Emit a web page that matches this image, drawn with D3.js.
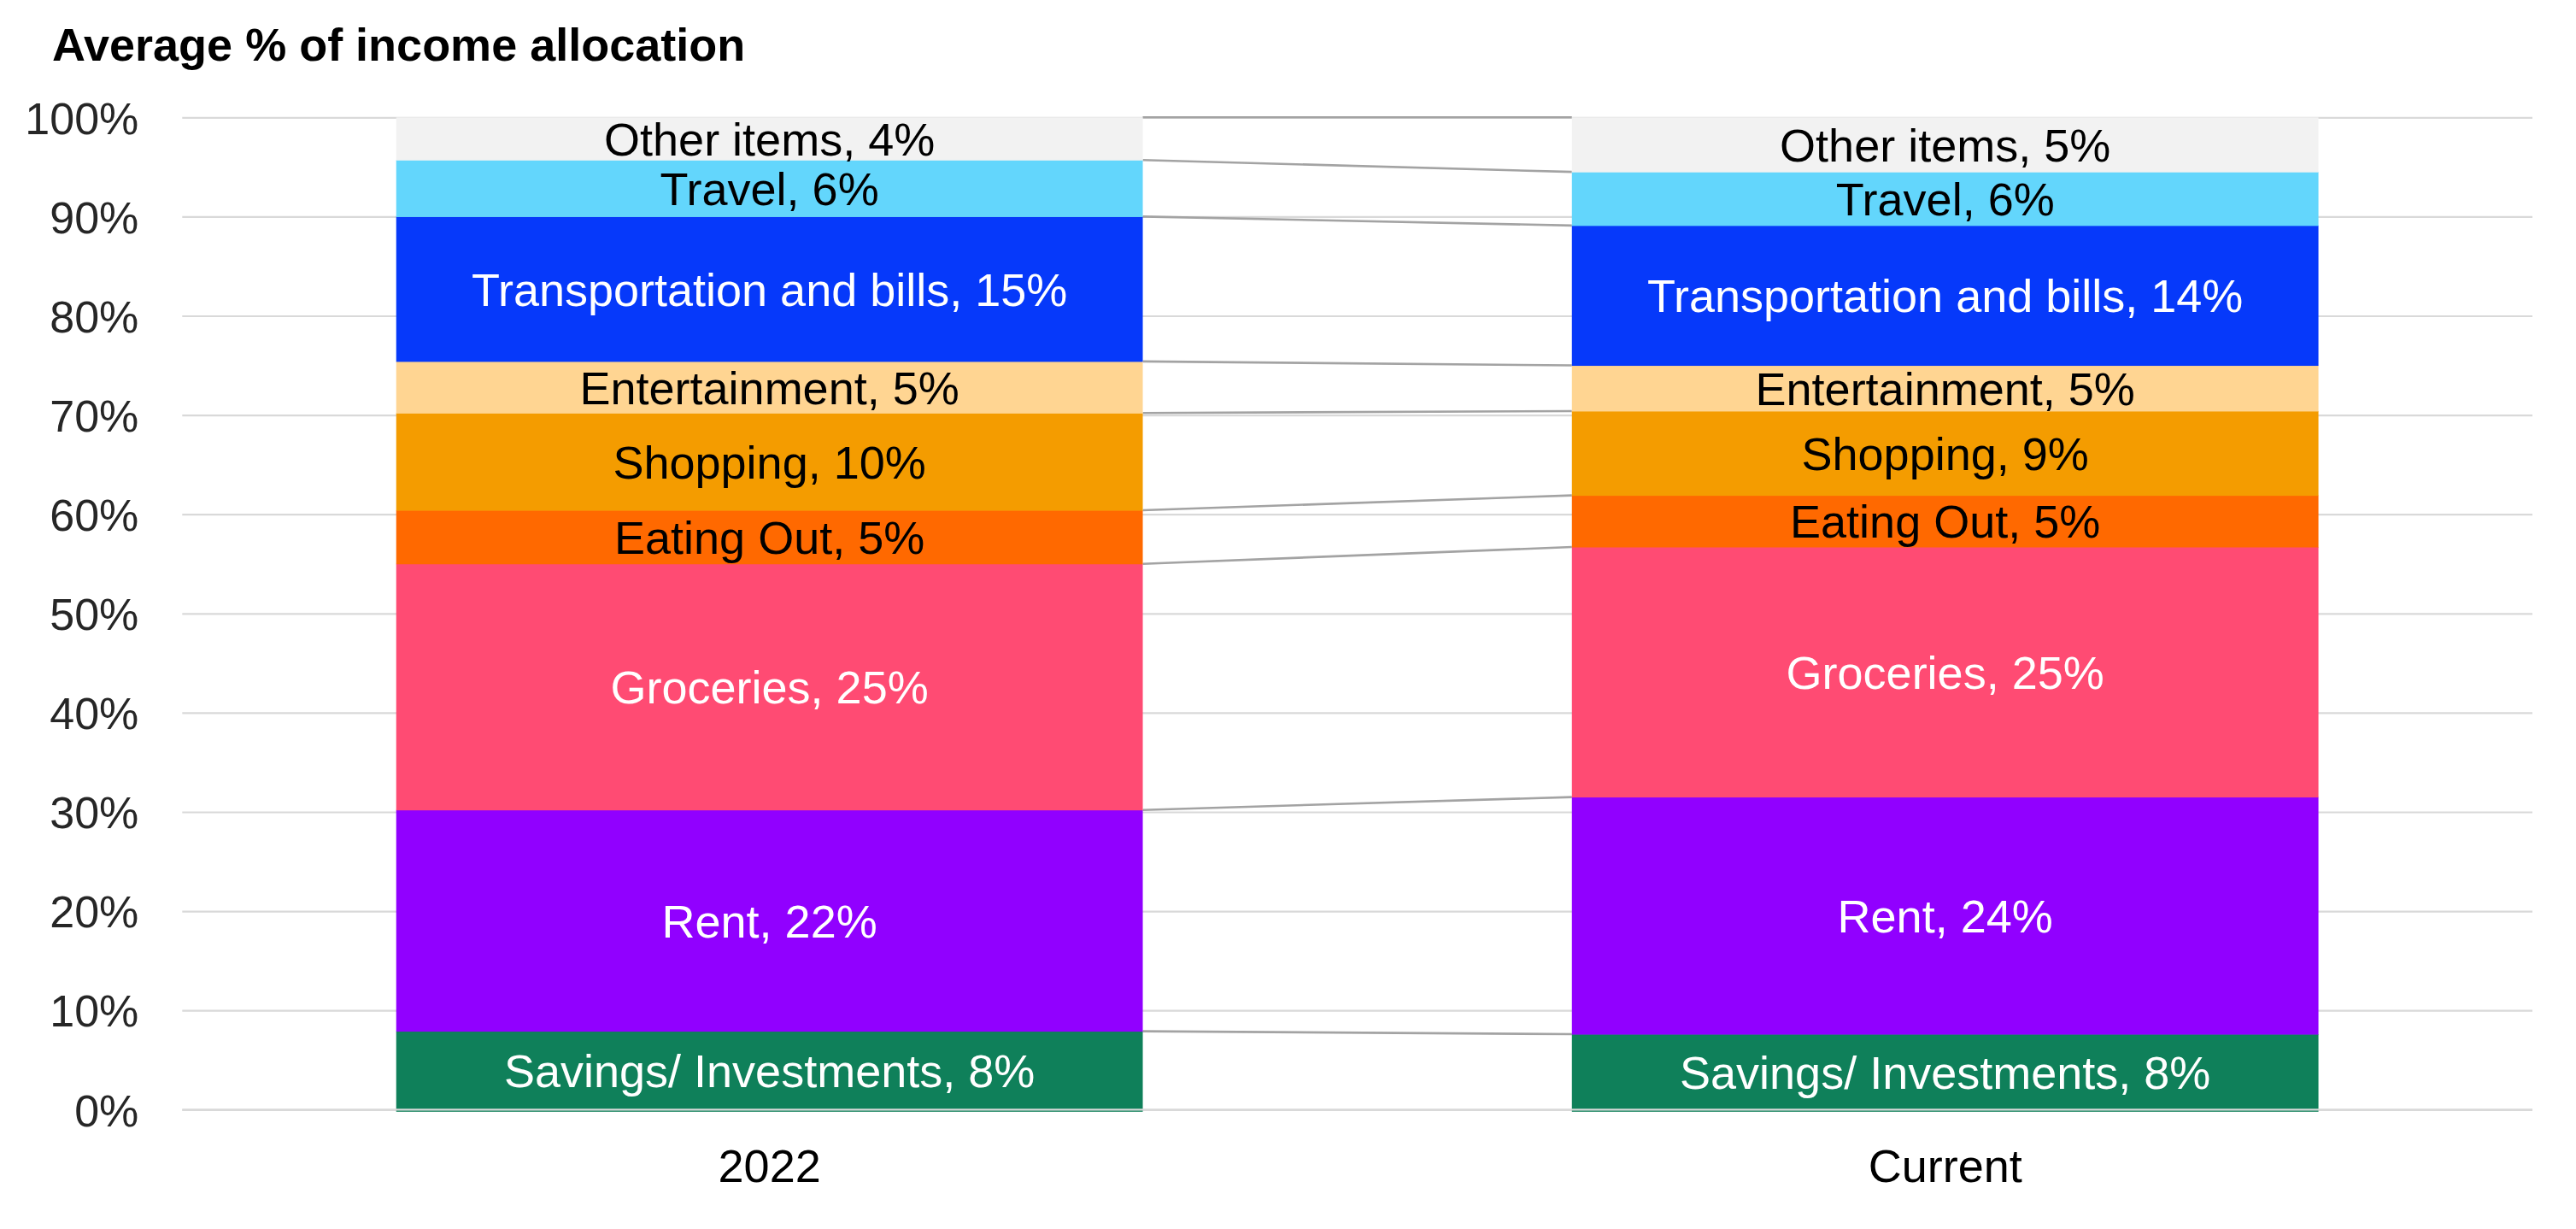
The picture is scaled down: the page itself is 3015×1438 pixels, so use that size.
<!DOCTYPE html>
<html>
<head>
<meta charset="utf-8">
<script src="https://cdn.jsdelivr.net/npm/d3@7"></script>
<style>
  body { margin: 0; background: #fff; }
  svg { display: block; font-family: "Liberation Sans", Arial, sans-serif; }
</style>
</head>
<body>
<div id="chart"></div>
<script>
// data
var periods = ['2022', 'Current'];
var categories = ['Savings/ Investments', 'Rent', 'Groceries', 'Eating Out', 'Shopping',
    'Entertainment', 'Transportation and bills', 'Travel', 'Other items'];
var values2022 = [7.9, 22.3, 24.8, 5.4, 9.8, 5.2, 14.6, 5.7, 4.3];
var valuesCurrent = [7.6, 23.9, 25.2, 5.2, 8.5, 4.6, 14.1, 5.4, 5.5];
var labels2022 = ['8%', '22%', '25%', '5%', '10%', '5%', '15%', '6%', '4%'];
var labelsCurrent = ['8%', '24%', '25%', '5%', '9%', '5%', '14%', '6%', '5%'];
var colors = ['#0f805a', '#9100ff', '#ff4b73', '#ff6900', '#f49c00',
    '#ffd592', '#0639fa', '#63d6fc', '#f2f2f2'];
var textColors = ['#fff', '#fff', '#fff', '#000', '#000', '#000', '#fff', '#000', '#000'];
var yTicks = [0, 10, 20, 30, 40, 50, 60, 70, 80, 90, 100];

var width = 3015;
var height = 1438;
var plotLeft = 213.3;
var plotRight = 2964;
var plotTop = 137.3;
var plotBottom = 1298.3;

var svg = d3.select('#chart').append('svg')
    .attr('width', width)
    .attr('height', height);

svg.append('text')
    .text('Average % of income allocation')
    .attr('x', 61)
    .attr('y', 71)
    .attr('font-size', 54)
    .attr('font-weight', 'bold')
    .attr('fill', '#000');

var xScale = d3.scaleBand()
    .domain(periods)
    .range([plotLeft, plotRight])
    .paddingInner(0.365)
    .paddingOuter(0.182);

var yScale = d3.scaleLinear()
    .domain([0, 100])
    .range([plotBottom, plotTop]);

// gridlines + y labels
var yAxis = d3.axisLeft(yScale)
    .tickValues(yTicks)
    .tickSize(-(plotRight - plotLeft))
    .tickPadding(51)
    .tickFormat(d => d + '%');

var gy = svg.append('g')
    .attr('transform', `translate(${plotLeft},0)`)
    .call(yAxis);
gy.select('.domain').remove();
gy.selectAll('line').attr('stroke', '#d9d9d9').attr('stroke-width', 2.2);
gy.selectAll('text')
    .attr('font-size', 52)
    .attr('font-family', '"Liberation Sans", Arial, sans-serif')
    .attr('fill', '#262626')
    .attr('dy', '0.36em');

// stack the two columns
var series = [values2022, valuesCurrent];
var labelSets = [labels2022, labelsCurrent];
var stacks = series.map(vals => {
    var acc = 0;
    return vals.map((v, i) => {
        var seg = { i: i, y0: acc, y1: acc + v };
        acc += v;
        return seg;
    });
});

// connector lines between the bars
var bw = xScale.bandwidth();
var xA = xScale(periods[0]) + bw;
var xB = xScale(periods[1]);
svg.append('g')
    .selectAll('line')
    .data(categories)
    .enter()
    .append('line')
    .attr('x1', xA)
    .attr('x2', xB)
    .attr('y1', (d, i) => yScale(stacks[0][i].y1))
    .attr('y2', (d, i) => yScale(stacks[1][i].y1))
    .attr('stroke', '#a3a3a3')
    .attr('stroke-width', 2.6);

periods.forEach((p, k) => {
    var g = svg.append('g').attr('class', 'bar');

    g.selectAll('rect')
        .data(stacks[k])
        .enter()
        .append('rect')
        .attr('x', xScale(p))
        .attr('width', bw)
        .attr('y', d => yScale(d.y1))
        .attr('height', d => yScale(d.y0) - yScale(d.y1) + (d.y0 === 0 ? 2.5 : 0.5))
        .attr('fill', d => colors[d.i]);

    g.selectAll('text')
        .data(stacks[k])
        .enter()
        .append('text')
        .text(d => `${categories[d.i]}, ${labelSets[k][d.i]}`)
        .attr('x', xScale(p) + bw / 2)
        .attr('y', d => yScale((d.y0 + d.y1) / 2))
        .attr('dy', '0.36em')
        .attr('text-anchor', 'middle')
        .attr('font-size', 54)
        .attr('fill', d => textColors[d.i]);
});

// baseline sits on top of the bars
svg.append('line')
    .attr('x1', plotLeft)
    .attr('x2', plotRight)
    .attr('y1', yScale(0))
    .attr('y2', yScale(0))
    .attr('stroke', '#d9d9d9')
    .attr('stroke-width', 2.2);

// category axis
var xAxis = d3.axisBottom(xScale)
    .tickSize(0)
    .tickPadding(46);

var gx = svg.append('g')
    .attr('transform', `translate(0,${plotBottom})`)
    .call(xAxis);
gx.select('.domain').remove();
gx.selectAll('text')
    .attr('font-size', 54)
    .attr('font-family', '"Liberation Sans", Arial, sans-serif')
    .attr('fill', '#000');
</script>
</body>
</html>
